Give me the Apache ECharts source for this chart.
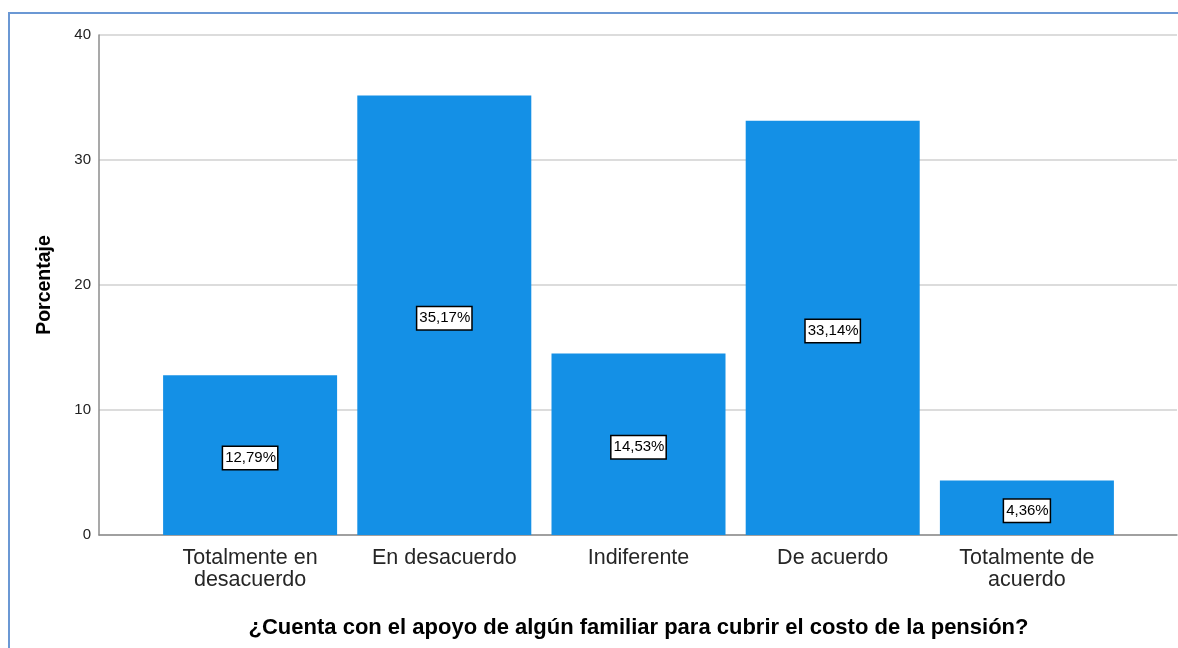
<!DOCTYPE html>
<html>
<head>
<meta charset="utf-8">
<script src="https://cdn.jsdelivr.net/npm/echarts@6/dist/echarts.min.js"></script>
<style>
  html, body { margin: 0; padding: 0; background: #fff; }
  #chart { width: 1178px; height: 648px; }
  #frame { position: absolute; left: 8px; top: 12px; width: 1170px; height: 636px;
           border-top: 2px solid #6b98d4; border-left: 2px solid #6b98d4; box-sizing: border-box; pointer-events: none; }
</style>
</head>
<body>
<div id="chart"></div>
<div id="frame"></div>
<script>
// categorias y porcentajes
const categories = ['Totalmente en\ndesacuerdo', 'En desacuerdo', 'Indiferente', 'De acuerdo', 'Totalmente de\nacuerdo']
const percentages = [12.79, 35.17, 14.53, 33.14, 4.36]
const yTicks = [0, 10, 20, 30, 40]

const myChart = echarts.init(document.getElementById('chart'))

const font = '"Liberation Sans", Arial, sans-serif'

const option = {
  animation: false,
  grid: [
    { left: 99, right: 1, top: 35, bottom: 113 },
    { left: 153, width: 971, top: 35, bottom: 113 }
  ],
  xAxis: [
    {
      type: 'value', gridIndex: 0, min: 0, max: 1,
      axisLine: { show: true, lineStyle: { color: '#8c8c8c', width: 1.5 } },
      axisTick: { show: false }, axisLabel: { show: false }, splitLine: { show: false }
    },
    {
      type: 'category', gridIndex: 1, data: categories,
      axisLine: { show: false }, axisTick: { show: false },
      axisLabel: { color: '#262626', fontFamily: font, fontSize: 21.5, lineHeight: 22, margin: 12 },
      name: '¿Cuenta con el apoyo de algún familiar para cubrir el costo de la pensión?',
      nameLocation: 'middle', nameGap: 82,
      nameTextStyle: { color: '#000', fontFamily: font, fontSize: 22, fontWeight: 'bold' }
    }
  ],
  yAxis: [
    {
      type: 'value', gridIndex: 0, min: yTicks[0], max: yTicks[yTicks.length - 1], interval: 10,
      axisLine: { show: true, lineStyle: { color: '#8c8c8c', width: 1.5 } },
      axisTick: { show: false },
      axisLabel: { color: '#222', fontFamily: font, fontSize: 15, margin: 8 },
      splitLine: { show: true, lineStyle: { color: '#d0d0d0', width: 1.5 } },
      name: 'Porcentaje', nameLocation: 'middle', nameGap: 44,
      nameTextStyle: { color: '#000', fontFamily: font, fontSize: 19.5, fontWeight: 'bold' }
    },
    {
      type: 'value', gridIndex: 1, min: yTicks[0], max: yTicks[yTicks.length - 1], show: false
    }
  ],
  series: [
    {
      type: 'bar', xAxisIndex: 1, yAxisIndex: 1,
      data: percentages,
      barWidth: 174,
      itemStyle: { color: '#1490e6' },
      label: {
        show: true, position: 'inside', offset: [0, 3],
        formatter: (p) => p.value.toFixed(2).replace('.', ',') + '%',
        color: '#000', fontFamily: font, fontSize: 15,
        backgroundColor: '#fff', borderColor: '#000', borderWidth: 1.5,
        padding: [4, 1, 3, 2]
      }
    }
  ]
}

myChart.setOption(option)
</script>
</body>
</html>
